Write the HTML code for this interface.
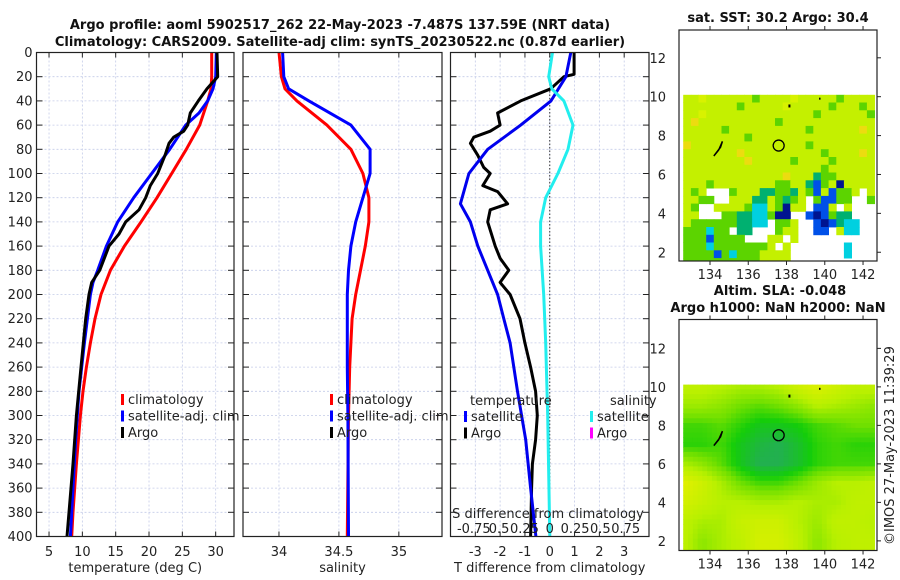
<!DOCTYPE html>
<html><head><meta charset="utf-8">
<style>
html,body{margin:0;padding:0;background:#fff;}
svg{display:block;font-family:"DejaVu Sans","Liberation Sans",sans-serif;}
</style></head>
<body>
<svg id="fig" width="900" height="580" viewBox="0 0 900 580" xmlns="http://www.w3.org/2000/svg">
<text x="340" y="29" text-anchor="middle" font-size="13" font-weight="bold" fill="#111">Argo profile: aoml 5902517_262 22-May-2023 -7.487S 137.59E (NRT data)</text>
<text x="340" y="46" text-anchor="middle" font-size="13" font-weight="bold" fill="#111">Climatology: CARS2009. Satellite-adj clim: synTS_20230522.nc (0.87d earlier)</text>
<text x="778" y="22" text-anchor="middle" font-size="13" font-weight="bold" fill="#111">sat. SST: 30.2 Argo: 30.4</text>
<text x="780" y="295" text-anchor="middle" font-size="13" font-weight="bold" fill="#111">Altim. SLA: -0.048</text>
<text x="778" y="312" text-anchor="middle" font-size="13" font-weight="bold" fill="#111">Argo h1000: NaN h2000: NaN</text>
<text transform="translate(894,545) rotate(-90)" font-size="13" fill="#222">©IMOS 27-May-2023 11:39:29</text>
<g id="layer"></g>
</svg>
<script>
// ---- profile data ----
const tempDepths = [0,20,30,40,50,60,80,100,120,140,160,180,200,220,240,260,280,300,340,380,400];
const tempClim   = [29.4,29.4,29.3,28.8,28.2,27.6,25.6,23.4,21.2,18.8,16.3,14.2,12.8,11.9,11.2,10.6,10.1,9.7,9.1,8.6,8.4];
const satDepths  = [0,20,30,40,50,60,80,100,120,140,160,180,190,200,240,280,320,360,400];
const tempSat    = [30.1,30.0,29.6,28.8,27.5,25.5,23.1,20.4,17.7,15.3,13.6,12.3,11.6,11.2,10.3,9.5,9.0,8.6,8.2];
const argoDepths = [0,20,25,30,40,50,60,65,70,75,85,100,110,120,130,140,150,160,180,190,200,220,260,300,340,380,400];
const tempArgo   = [30.2,30.3,29.5,28.7,27.4,26.2,25.8,25.2,23.7,23.0,22.4,21.3,20.2,19.5,18.5,16.5,15.5,14.0,12.6,11.4,11.0,10.5,9.8,9.1,8.6,8.0,7.7];
const salDepths  = [0,20,30,40,60,80,100,120,140,160,180,200,220,240,260,300,400];
const salClim    = [34.0,34.02,34.05,34.15,34.4,34.6,34.7,34.75,34.75,34.72,34.68,34.64,34.61,34.6,34.59,34.58,34.57];
const salSat     = [34.03,34.04,34.08,34.25,34.6,34.76,34.76,34.7,34.64,34.6,34.58,34.57,34.57,34.57,34.57,34.575,34.58];
const dtDepths   = [0,20,40,60,80,100,125,140,160,180,200,220,240,280,320,360,400];
const dtSat      = [0.85,0.65,0.05,-1.17,-2.5,-3.26,-3.6,-3.2,-2.9,-2.5,-2.1,-1.85,-1.6,-1.3,-0.97,-0.77,-0.56];
const dtArgoDepths = [0,18,20,30,40,50,60,65,70,75,85,95,100,110,115,125,130,140,160,170,180,190,200,220,240,260,280,300,320,340,360,400];
const dtArgo     = [0.98,0.98,0.57,0.04,-1.17,-2.1,-2.0,-2.4,-3.06,-3.2,-2.9,-2.66,-2.4,-2.7,-2.1,-1.7,-2.4,-2.5,-2.2,-2.0,-1.65,-2.0,-1.6,-1.2,-1.0,-0.77,-0.57,-0.5,-0.57,-0.7,-0.73,-0.77];
const dsDepths   = [0,20,30,40,60,80,100,120,140,160,200,240,300,400];
const dsSat      = [0.027,-0.01,0.02,0.14,0.23,0.18,0.08,-0.04,-0.09,-0.09,-0.06,-0.04,-0.02,0.0];
const depthTicks = [0,20,40,60,80,100,120,140,160,180,200,220,240,260,280,300,320,340,360,380,400];
const tempTicks  = [5,10,15,20,25,30];
const salTicks   = [34,34.5,35];
const dtTicks    = [-3,-2,-1,0,1,2,3];
const dsTicks    = [-0.75,-0.5,-0.25,0,0.25,0.5,0.75];
const dsTickLabels = ["-0.75","0.5","0.25","0","0.25","0.5","0.75"];
// ---- map data ----
const sstRows = [
"YYyYYYYYYGYYYYyYYYYYGYYYY",
"YYYYYYYGYYYYYyYYYYYGYYYGY",
"YYyYYYYYYYYYYYYYYGYYYYYYG",
"YOYYYYYYYYYYGYYYYYYYYYYYY",
"YYYYYGYYYYYYYYYYGYYYYYYOY",
"YYYYYYYYGYYYYYYYYYYYYYYYY",
"OYYYYYYYYYYYYYYYGYYYYYYYY",
"YYYYYYYOYYYYYYYYYYGYYYYOY",
"YYYYYYYYOYYYYYGYYYYGYYYYY",
"YYYYYYYYYYYYYYYYYYGYYYYYY",
"YYYYYYYYYYYYYOYYYTGGYYYYY",
"YYYGYYYYYYYYGGYYTBGYNYYYY",
"YGY   GYYYTTGGTYGBYBGGY Y",
"YYGG  YYYTTYGTGY GBBGG  G",
"YG  YYYYGCCYGNYY BBY Y   ",
"YY   GGTTCCGNN  BNBGTT   ",
"YGGGGGGTTCC GGY  BNBTCC  ",
"GGGCGG TT   GYY  BB YCC  ",
"GGGBGGGG   YY Y          ",
"GGGCGGGGGGGY Y       C   ",
"GGGGBGCGGGYYYY       C   ",
"GGGGGGGGGGYYYY           "];
const sstLat0 = 10.1, sstLon0 = 132.6, sstStep = 0.4;
const slaLats = [10,9,8,7,6,5,4,3,2];
const slaLons = [132.6,133.6,134.6,135.6,136.6,137.6,138.6,139.6,140.6,141.6,142.6];
const slaGrid = [
[0.3,0.3,0.35,0.4,0.4,0.35,0.2,0.1,0.2,0.3,0.3],
[0.45,0.45,0.5,0.6,0.65,0.6,0.5,0.35,0.4,0.45,0.5],
[0.7,0.7,0.65,0.75,0.85,0.85,0.8,0.7,0.65,0.6,0.6],
[0.75,0.75,0.7,0.85,0.95,1.0,0.9,0.75,0.7,0.75,0.75],
[0.4,0.5,0.65,0.85,1.0,1.0,0.9,0.75,0.7,0.7,0.7],
[0.05,0.2,0.4,0.6,0.7,0.7,0.6,0.45,0.35,0.35,0.3],
[0.15,0.25,0.35,0.35,0.4,0.4,0.35,0.4,0.4,0.3,0.3],
[0.3,0.4,0.4,0.25,0.2,0.2,0.35,0.45,0.3,0.3,0.35],
[0.3,0.5,0.4,0.3,0.15,0.15,0.3,0.5,0.35,0.3,0.3]];
const argoLon = 137.59, argoLat = 7.487;
const latTicks = [2,4,6,8,10,12];
const lonTicks = [134,136,138,140,142];

const NS="http://www.w3.org/2000/svg";
const L=document.getElementById('layer');
function mk(tag,attrs,parent){const e=document.createElementNS(NS,tag);for(const k in attrs)e.setAttribute(k,attrs[k]);(parent||L).appendChild(e);return e;}
function txt(s,x,y,attrs){const e=mk('text',Object.assign({x:x,y:y,'font-size':13,fill:'#222'},attrs||{}));e.textContent=s;return e;}

const TOP=52.5,BOT=536.5;
const yD=d=>TOP+(d/400)*(BOT-TOP);
const P1={l:36.5,r:234,min:3.12,max:32.75};
const P2={l:243,r:442,min:33.70,max:35.36};
const P3={l:450.5,r:649,min:-4,max:4};
const P3S={min:-0.98,max:0.98};
const xf=(P,v)=>P.l+(v-P.min)/(P.max-P.min)*(P.r-P.l);
const xs=v=>P3.l+(v-P3S.min)/(P3S.max-P3S.min)*(P3.r-P3.l);

function panel(P,ticks,name,xlabel,labels){
  const g=mk('g',{});
  
  
  ticks.forEach(t=>{const x=xf(P,t);mk('line',{x1:x,x2:x,y1:TOP,y2:BOT,stroke:'#c4cbe8','stroke-width':0.8,'stroke-dasharray':'2,2'},g);
    mk('line',{x1:x,x2:x,y1:BOT,y2:BOT-5,stroke:'#222','stroke-width':1},g);mk('line',{x1:x,x2:x,y1:TOP,y2:TOP+5,stroke:'#222','stroke-width':1},g);
    const t1=txt(String(t),x,556,{'text-anchor':'middle'});});
  depthTicks.forEach(d=>{const y=yD(d);mk('line',{x1:P.l,x2:P.r,y1:y,y2:y,stroke:'#c4cbe8','stroke-width':0.8,'stroke-dasharray':'2,2'},g);
    mk('line',{x1:P.l,x2:P.l+6,y1:y,y2:y,stroke:'#222','stroke-width':1},g);mk('line',{x1:P.r-6,x2:P.r,y1:y,y2:y,stroke:'#222','stroke-width':1},g);
    if(labels){const t2=txt(String(d),P.l-4,y+4.5,{'text-anchor':'end'});}});
  const xl=txt(xlabel,(P.l+P.r)/2,572,{'text-anchor':'middle'});
  
  
  return g;
}
function line(pts,color,name,w){
  const p=mk('polyline',{points:pts.map(q=>q[0].toFixed(1)+','+q[1].toFixed(1)).join(' '),fill:'none',stroke:color,'stroke-width':w||3,'stroke-linejoin':'round'});
  
  
}
function frame(P,name){const r=mk('rect',{x:P.l,y:TOP,width:P.r-P.l,height:BOT-TOP,fill:'none',stroke:'#222','stroke-width':1.2});}
function legend(x,y,items){
  items.forEach((it,i)=>{const yy=y+i*16.5;mk('rect',{x:x,y:yy-10,width:3,height:11,fill:it[1]});
    const t=txt(it[0],x+7,yy);});
}

// Panel 1
panel(P1,tempTicks,'temperature-panel','temperature (deg C)',true);
line(tempDepths.map((d,i)=>[xf(P1,tempClim[i]),yD(d)]),'#ff0000','temp-climatology-line');
line(satDepths.map((d,i)=>[xf(P1,tempSat[i]),yD(d)]),'#0000ff','temp-satellite-line');
line(argoDepths.map((d,i)=>[xf(P1,tempArgo[i]),yD(d)]),'#000000','temp-argo-line');
frame(P1,'temperature-axes');
legend(121,404,[['climatology','#ff0000'],['satellite-adj. clim','#0000ff'],['Argo','#000']]);
// Panel 2
panel(P2,salTicks,'salinity-panel','salinity',false);
line(salDepths.map((d,i)=>[xf(P2,salClim[i]),yD(d)]),'#ff0000','sal-climatology-line');
line(salDepths.map((d,i)=>[xf(P2,salSat[i]),yD(d)]),'#0000ff','sal-satellite-line');
frame(P2,'salinity-axes');
legend(330,404,[['climatology','#ff0000'],['satellite-adj. clim','#0000ff'],['Argo','#000']]);
// Panel 3
panel(P3,dtTicks,'difference-panel','T difference from climatology',false);
mk('line',{x1:xf(P3,0),x2:xf(P3,0),y1:TOP,y2:BOT,stroke:'#333','stroke-width':1,'stroke-dasharray':'1.5,2'});
line(dtArgoDepths.map((d,i)=>[xf(P3,dtArgo[i]),yD(d)]),'#000000','dT-argo-line');
line(dtDepths.map((d,i)=>[xf(P3,dtSat[i]),yD(d)]),'#0000ee','dT-satellite-line');
line(dsDepths.map((d,i)=>[xs(dsSat[i]),yD(d)]),'#22eeee','dS-satellite-line');
frame(P3,'difference-axes');
const th=txt('temperature',470,405);
const sh=txt('salinity',610,405);
legend(464,421,[['satellite','#0000ff'],['Argo','#000']]);
legend(590,421,[['satellite','#22eeee'],['Argo','#ff00ff']]);
const sdt=txt('S difference from climatology',548,518,{'text-anchor':'middle'});


dsTicks.forEach((s,i)=>{const t=txt(dsTickLabels[i],xs(s),533,{'text-anchor':'middle'});});

// ---- Maps ----
const CMAP={Y:'#c4f000',y:'#d8f200',O:'#ecdc10',G:'#5cd400',T:'#00b070',C:'#00d0e0',B:'#0050e8',N:'#001490'};
function mapAxes(M,name){
  const lx=lon=>M.l+(lon-M.lon0)/(M.lon1-M.lon0)*(M.r-M.l);
  const ly=lat=>M.t+(M.lat1-lat)/(M.lat1-M.lat0)*(M.b-M.t);
  return {lx,ly};
}
function drawMapFrame(M,name,f,showLon){
  const r=mk('rect',{x:M.l,y:M.t,width:M.r-M.l,height:M.b-M.t,fill:'none',stroke:'#222','stroke-width':1.2});
  
  
  latTicks.forEach(la=>{const y=f.ly(la);mk('line',{x1:M.r,x2:M.r+4,y1:y,y2:y,stroke:'#222'});
    const t=txt(String(la),M.l-13,y+5,{'text-anchor':'end'});});
  lonTicks.forEach(lo=>{const x=f.lx(lo);mk('line',{x1:x,x2:x,y1:M.b,y2:M.b+4,stroke:'#222'});mk('line',{x1:x,x2:x,y1:M.t,y2:M.t-4,stroke:'#222'});
    const t=txt(String(lo),x,M.b+18,{'text-anchor':'middle'});});
  const c=mk('circle',{cx:f.lx(argoLon),cy:f.ly(argoLat),r:5.5,fill:'none',stroke:'#000','stroke-width':1.3});
  
  
  mk('path',{d:`M${f.lx(134.2)},${f.ly(6.95)} L${f.lx(134.45)},${f.ly(7.25)} L${f.lx(134.65)},${f.ly(7.7)} L${f.lx(134.55)},${f.ly(7.4)} Z`,fill:'#000',stroke:'#000','stroke-width':1.5});
  mk('rect',{x:f.lx(138.1),y:f.ly(9.6),width:2,height:3,fill:'#000'});
  mk('rect',{x:f.lx(139.7),y:f.ly(9.95),width:1.5,height:2,fill:'#000'});
}
const M1={l:679,r:877,t:30,b:261,lon0:132.38,lon1:142.73,lat0:1.55,lat1:13.43};
const f1=mapAxes(M1);
const g1=mk('g',{});


sstRows.forEach((row,ri)=>{for(let ci=0;ci<25;ci++){const ch=row[ci]||' ';if(ch===' ')continue;
  const lo=sstLon0+ci*sstStep, la=sstLat0-ri*sstStep;
  const x0=f1.lx(lo),x1=f1.lx(Math.min(lo+sstStep,142.6)),y0=f1.ly(la),y1=f1.ly(Math.max(la-sstStep,1.55));
  mk('rect',{x:x0.toFixed(1),y:y0.toFixed(1),width:(x1-x0+0.4).toFixed(1),height:(y1-y0+0.4).toFixed(1),fill:CMAP[ch]},g1);}});
drawMapFrame(M1,'sst-map-axes',f1);

const M2={l:679,r:877,t:319.5,b:550.5,lon0:132.38,lon1:142.73,lat0:1.5,lat1:13.5};
const f2=mapAxes(M2);
const stops=[[0,[232,240,0]],[0.35,[184,240,0]],[0.6,[112,224,0]],[0.8,[20,205,10]],[1,[34,176,80]]];
function slaColor(v){for(let i=1;i<stops.length;i++){if(v<=stops[i][0]){const a=stops[i-1],b=stops[i];const t=(v-a[0])/(b[0]-a[0]);return 'rgb('+a[1].map((c,k)=>Math.round(c+(b[1][k]-c)*t)).join(',')+')';}}return 'rgb(34,176,80)';}
function slaAt(lon,lat){
  let fi=(10-lat);fi=Math.max(0,Math.min(slaLats.length-1.001,fi));
  let fj=(lon-132.6);fj=Math.max(0,Math.min(slaLons.length-1.001,fj));
  const i=Math.floor(fi),j=Math.floor(fj),a=fi-i,b=fj-j;
  return slaGrid[i][j]*(1-a)*(1-b)+slaGrid[i+1][j]*a*(1-b)+slaGrid[i][j+1]*(1-a)*b+slaGrid[i+1][j+1]*a*b;
}
const g2=mk('g',{});


const st=0.25;
for(let la=10.12;la>1.5;la-=st){for(let lo=132.6;lo<142.6;lo+=st){
  const x0=f2.lx(lo),x1=f2.lx(Math.min(lo+st,142.6)),y0=f2.ly(la),y1=f2.ly(Math.max(la-st,1.5));
  mk('rect',{x:x0.toFixed(1),y:y0.toFixed(1),width:(x1-x0+0.5).toFixed(1),height:(y1-y0+0.5).toFixed(1),fill:slaColor(slaAt(lo+st/2,la-st/2))},g2);}}
drawMapFrame(M2,'sla-map-axes',f2);
</script>
</body></html>
